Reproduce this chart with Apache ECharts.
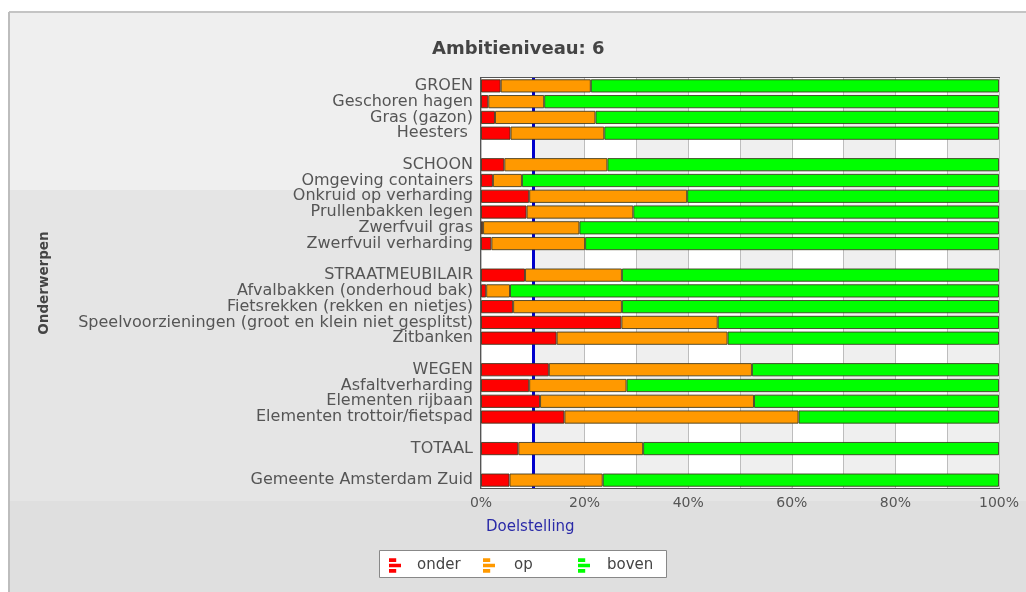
<!DOCTYPE html>
<html>
<head>
<meta charset="utf-8">
<script src="https://cdn.jsdelivr.net/npm/echarts@6/dist/echarts.min.js"></script>
<style>
html,body{margin:0;padding:0;background:#ffffff;}
#chart{width:1026px;height:592px;}
</style>
</head>
<body>
<div id="chart"></div>
<script>
var titleText = 'Ambitieniveau: 6';
var categories = [
  'GROEN', 'Geschoren hagen', 'Gras (gazon)', 'Heesters ', ' ',
  'SCHOON', 'Omgeving containers', 'Onkruid op verharding', 'Prullenbakken legen', 'Zwerfvuil gras', 'Zwerfvuil verharding', '  ',
  'STRAATMEUBILAIR', 'Afvalbakken (onderhoud bak)', 'Fietsrekken (rekken en nietjes)', 'Speelvoorzieningen (groot en klein niet gesplitst)', 'Zitbanken', '   ',
  'WEGEN', 'Asfaltverharding', 'Elementen rijbaan', 'Elementen trottoir/fietspad', '    ',
  'TOTAAL', '     ',
  'Gemeente Amsterdam Zuid'
];
var onder = [3.8, 1.4, 2.7, 5.7, null, 4.5, 2.3, 9.3, 8.8, 0.4, 2.0, null, 8.5, 1.0, 6.2, 27.1, 14.6, null, 13.1, 9.3, 11.4, 16.1, null, 7.2, null, 5.5];
var op = [17.4, 10.8, 19.4, 18.1, null, 19.9, 5.6, 30.5, 20.6, 18.6, 18.1, null, 18.7, 4.6, 21.0, 18.6, 33.0, null, 39.2, 18.8, 41.3, 45.2, null, 24.1, null, 18.0];
var boven = [78.8, 87.8, 77.9, 76.2, null, 75.6, 92.1, 60.2, 70.6, 81.0, 79.9, null, 72.8, 94.4, 72.8, 54.3, 52.4, null, 47.7, 71.9, 47.3, 38.7, null, 68.7, null, 76.5];
var doelstelling = 10;
var xTicks = [0, 20, 40, 60, 80, 100];
var seriesNames = ['onder', 'op', 'boven'];
var seriesColors = ['#ff0000', '#ff9900', '#00ff00'];

var FONT = 'DejaVu Sans, Verdana, sans-serif';
var chart = echarts.init(document.getElementById('chart'), null, {renderer: 'canvas'});
var legendIcon = 'path://M0,0H6V3H0Z M0,4.5H10V7.5H0Z M0,9H6V12H0Z';

function mkBar(name, data, color) {
  return {
    name: name, type: 'bar', stack: 'total', data: data,
    barCategoryGap: '16%', z: 3,
    itemStyle: {color: color, borderColor: 'rgba(60,55,30,0.85)', borderWidth: 1},
    emphasis: {disabled: true}
  };
}

var legends = [
  {name: 'onder', left: 384, pad: 11},
  {name: 'op', left: 478, pad: 14},
  {name: 'boven', left: 573, pad: 12}
].map(function (l) {
  return {
    data: [l.name], left: l.left, top: 553, orient: 'horizontal', z: 10,
    itemWidth: 12, itemHeight: 16, icon: legendIcon, selectedMode: false,
    itemStyle: {borderWidth: 0},
    textStyle: {fontFamily: FONT, fontSize: 15, color: '#444', padding: [0, 0, 0, l.pad]}
  };
});

var option = {
  animation: false,
  backgroundColor: '#ffffff',
  graphic: [
    {type: 'rect', z: -10, shape: {x: 8, y: 12, width: 1030, height: 178}, style: {fill: '#efefef'}},
    {type: 'rect', z: -10, shape: {x: 8, y: 190, width: 1030, height: 311}, style: {fill: '#e5e5e5'}},
    {type: 'rect', z: -10, shape: {x: 8, y: 501, width: 1030, height: 100}, style: {fill: '#dfdfdf'}},
    {type: 'line', z: -9, shape: {x1: 9, y1: 12, x2: 1030, y2: 12}, style: {stroke: '#c4c4c4', lineWidth: 2}},
    {type: 'line', z: -9, shape: {x1: 9, y1: 12, x2: 9, y2: 600}, style: {stroke: '#bdbdbd', lineWidth: 2}},
    {type: 'text', left: 432, top: 40, style: {text: titleText, fontFamily: FONT, fontSize: 18, fontWeight: 'bold', fill: '#444'}},
    {type: 'text', left: 486, top: 520, style: {text: 'Doelstelling', fontFamily: FONT, fontSize: 15, fill: '#2a2aa8'}},
    {type: 'rect', z: 1, shape: {x: 379.5, y: 550.5, width: 287, height: 27}, style: {fill: '#ffffff', stroke: '#888', lineWidth: 1}}
  ],
  legend: legends,
  grid: {left: 481, right: 27, top: 78, bottom: 104, show: true, borderColor: '#555', borderWidth: 2, backgroundColor: 'transparent', containLabel: false},
  xAxis: {
    type: 'value', min: 0, max: 100, interval: 10,
    axisLine: {show: false}, axisTick: {show: false},
    axisLabel: {
      fontFamily: FONT, fontSize: 14, color: '#555', margin: 8,
      formatter: function (v) { return xTicks.indexOf(v) >= 0 ? v + '%' : ''; }
    },
    splitLine: {show: true, lineStyle: {color: '#bdbdbd', width: 1}},
    splitArea: {show: true, areaStyle: {color: ['#ffffff', '#efefef']}}
  },
  yAxis: {
    type: 'category', inverse: true, data: categories,
    name: 'Onderwerpen', nameLocation: 'middle', nameRotate: 90, nameGap: 430,
    nameTextStyle: {fontFamily: FONT, fontSize: 13.5, fontWeight: 'bold', color: '#444'},
    axisLine: {show: false}, axisTick: {show: false},
    axisLabel: {fontFamily: FONT, fontSize: 16, color: '#555', margin: 8, interval: 0}
  },
  series: [
    mkBar(seriesNames[0], onder, seriesColors[0]),
    mkBar(seriesNames[1], op, seriesColors[1]),
    mkBar(seriesNames[2], boven, seriesColors[2]),
    {
      name: 'Doelstelling', type: 'line', data: [], z: 1, silent: true,
      markLine: {
        silent: true, z: 1, symbol: ['none', 'none'], label: {show: false},
        lineStyle: {color: '#0000cc', width: 3, type: 'solid'},
        data: [{xAxis: doelstelling}]
      }
    }
  ]
};
chart.setOption(option);
</script>
</body>
</html>
